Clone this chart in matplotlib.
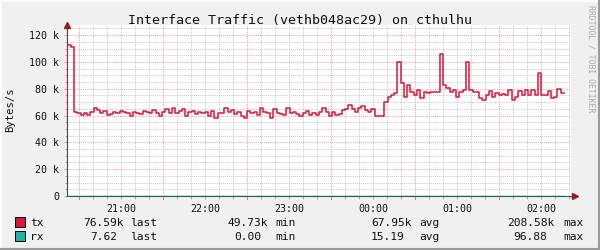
import datetime as dt
import matplotlib
matplotlib.use('Agg')
import matplotlib.pyplot as plt
import matplotlib.dates as mdates
from matplotlib.ticker import MultipleLocator, FixedLocator, FuncFormatter
from matplotlib.patches import Rectangle
from matplotlib.lines import Line2D

# ── Data (tx in kB/s; 140 s steps) ──────────────────────────────────────────
TITLE = "Interface Traffic (vethb048ac29) on cthulhu"
Y_LABEL = "Bytes/s"
WATERMARK = "RRDTOOL / TOBI OETIKER"

TX_START = dt.datetime(2024, 1, 1, 20, 19, 25)
TX_STEP_S = 140
TX_K = [
    61, 113, 111,
    62.9, 61.7, 60.4, 61.7, 60.4, 62.9, 65.9, 64.2, 61.7, 63.4,
    60.4, 60.9, 62.4, 61.7, 63.4, 62.4, 61.7, 59.9, 62.9, 61.7,
    60.9, 63.4, 62.4, 61.7, 64.2, 61.7, 59.9, 62.9, 64.9, 61.7,
    65.4, 61.7, 63.4, 64.9, 59.9, 62.4, 63.4, 60.9, 62.4, 61.7,
    62.9, 59.9, 63.4, 58.5, 61.7, 61.7, 65.4, 62.4,
    64.2, 60.9, 62.9, 59.9, 58.0, 63.4, 61.7, 62.4, 60.4, 65.4,
    62.9, 61.7, 58.5, 64.9, 61.7, 60.9, 60.4, 65.4, 61.7, 62.9,
    60.9, 59.9, 61.7, 63.4, 60.4, 61.7, 60.4, 62.4, 65.4, 62.9,
    59.9, 62.4, 60.4, 60.9, 64.2, 64.9, 67.9, 64.9, 62.9, 65.9,
    67.4, 64.2, 62.9, 64.9, 59.9, 59.9, 59.9,
    70.4, 74.1, 75.4, 76.6, 100.2, 84.1, 74.1, 82.8, 77.9, 75.4,
    79.1, 72.9, 77.9, 76.6, 77.3, 77.3, 77.9, 106.0, 82.8, 80.4,
    77.3, 79.1, 74.1, 77.9, 79.1, 100.2, 79.1,
    77.9, 77.9, 72.9, 71.9, 75.4, 78.6, 74.1, 76.6, 75.4, 76.1,
    75.4, 79.1, 71.9, 74.1, 78.6, 75.4, 79.1, 75.4, 79.1, 75.4,
    92.0, 75.4, 75.4, 78.6, 72.9, 74.1, 79.6, 76.6,
]

# rx is tiny (bytes/s) -> sits on the baseline
RX_STEP_S = 1440
RX_B = [12.4, 15.8, 9.6, 18.2, 14.1, 96.9, 16.3, 11.7, 13.5, 20.4, 15.2, 12.8, 17.6, 14.9, 7.62]

LEGEND_ROWS = [
    ("tx", "#DC143C", [("76.59k", 83), ("last", 130), ("49.73k", 227), ("min", 275),
                       ("67.95k", 371), ("avg", 419), ("208.58k", 507), ("max", 563)]),
    ("rx", "#20B2AA", [("7.62", 90), ("last", 130), ("0.00", 234), ("min", 275),
                       ("15.19", 371), ("avg", 419), ("96.88", 513), ("max", 563)]),
]

X_START = dt.datetime(2024, 1, 1, 20, 21, 25)
X_END = X_START + dt.timedelta(hours=6)
Y_MAX = 127600

# ── Figure ────────────────────────────────────────────────────────────────────
W, H = 600, 250
MONO = 'DejaVu Sans Mono'
fig = plt.figure(figsize=(W / 100, H / 100), dpi=100, facecolor='#F0F0F0')
ax = fig.add_axes([67 / W, 54 / H, 504 / W, 171 / H])
ax.set_facecolor('white')


def fx(x):
    return x / W


def fy(y):
    return 1 - y / H


# ── Series ────────────────────────────────────────────────────────────────────
tx_t = [TX_START + dt.timedelta(seconds=TX_STEP_S * i) for i in range(len(TX_K) + 1)]
tx_v = [v * 1000 for v in TX_K] + [TX_K[-1] * 1000]
rx_t = [TX_START + dt.timedelta(seconds=RX_STEP_S * i) for i in range(len(RX_B) + 1)]
rx_v = RX_B + [RX_B[-1]]
rx_t[-1] = tx_t[-1]

ax.step(rx_t, rx_v, where='post', color='#1E8C86', lw=1.0, zorder=4)
ax.step(tx_t, tx_v, where='post', color='#DC143C', lw=1.1, zorder=5)

ax.set_xlim(X_START, X_END)
ax.set_ylim(0, Y_MAX)

# ── Grid ──────────────────────────────────────────────────────────────────────
dots = (0, (1, 1))
ax.set_axisbelow(True)
ax.yaxis.set_major_locator(MultipleLocator(20000))
ax.yaxis.set_minor_locator(FixedLocator([v for v in range(5000, 130000, 5000) if v % 20000]))
ax.yaxis.set_major_formatter(FuncFormatter(lambda v, _: '0' if v == 0 else f'{v / 1000:.0f} k'))
ax.grid(which='major', axis='y', color='#F2A0A0', ls=dots, lw=0.7)
ax.grid(which='minor', axis='y', color='#C8C8C8', ls=dots, lw=0.7)

ax.xaxis.set_major_locator(mdates.HourLocator())
ax.xaxis.set_minor_locator(mdates.MinuteLocator(byminute=[10, 20, 40, 50]))
ax.xaxis.set_major_formatter(mdates.DateFormatter('%H:%M'))
ax.grid(which='both', axis='x', color='#C8C8C8', ls=dots, lw=0.7)

half_hours = mdates.MinuteLocator(byminute=[30]).tick_values(X_START, X_END)
for t in half_hours:
    ax.axvline(t, color='#F2A0A0', ls=dots, lw=0.7, zorder=1)
    ax.plot([t, t], [0, -3 / 171], color='#E07070', lw=0.7,
            transform=ax.get_xaxis_transform(), clip_on=False)

# ── Axes / ticks ─────────────────────────────────────────────────────────────
for side in ('top', 'right'):
    ax.spines[side].set_visible(False)
ax.spines['left'].set_color('#444444')
ax.spines['bottom'].set_color('#2E5E5A')
ax.spines['left'].set_linewidth(0.8)
ax.spines['bottom'].set_linewidth(0.8)
ax.tick_params(which='both', direction='out', colors='#999999', width=0.6,
               labelcolor='#111111', labelsize=7.2)
ax.tick_params(which='major', length=2.5, pad=3)
ax.tick_params(which='minor', length=1.8)
for lbl in ax.get_xticklabels() + ax.get_yticklabels():
    lbl.set_family(MONO)

# axis arrows
ax.plot(0, 1, marker='^', ms=4, color='#A01818', transform=ax.transAxes, clip_on=False, zorder=6)
ax.plot([1, 1.006], [0, 0], color='#2E5E5A', lw=0.8, transform=ax.transAxes, clip_on=False)
ax.plot(1.008, 0, marker='>', ms=4, color='#A01818', transform=ax.transAxes, clip_on=False, zorder=6)

# ── Texts ─────────────────────────────────────────────────────────────────────
fig.text(fx(300), fy(24), TITLE, ha='center', va='baseline', family=MONO, fontsize=9.6, color='#111111')
fig.text(fx(10), fy(110), Y_LABEL, ha='center', va='center', rotation=90, family=MONO,
         fontsize=7.6, color='#111111')
fig.text(fx(591), fy(59), WATERMARK, ha='center', va='center', rotation=270, family=MONO,
         fontsize=5.9, color='#AAAAAA')

# ── Legend ────────────────────────────────────────────────────────────────────
for row, (name, colour, items) in enumerate(LEGEND_ROWS):
    base = 226.5 + row * 14
    fig.add_artist(Rectangle((fx(15), fy(base)), 10 / W, 10 / H, transform=fig.transFigure,
                             facecolor=colour, edgecolor='black', lw=0.7))
    fig.text(fx(30), fy(base), name, va='baseline', family=MONO, fontsize=8.1, color='#111111')
    for txt, x in items:
        fig.text(fx(x), fy(base), txt, va='baseline', family=MONO, fontsize=8.1, color='#111111')

# ── Frame ─────────────────────────────────────────────────────────────────────
fig.add_artist(Line2D([0, 1], [fy(0.5), fy(0.5)], color='white', lw=1.2))
fig.add_artist(Line2D([fx(0.5), fx(0.5)], [0, 1], color='white', lw=1.2))
fig.add_artist(Line2D([0, 1], [fy(249), fy(249)], color='#9A9A9A', lw=1.5))
fig.add_artist(Line2D([fx(599), fx(599)], [0, 1], color='#9A9A9A', lw=1.5))

plt.savefig('out.png', dpi=100, facecolor=fig.get_facecolor())
